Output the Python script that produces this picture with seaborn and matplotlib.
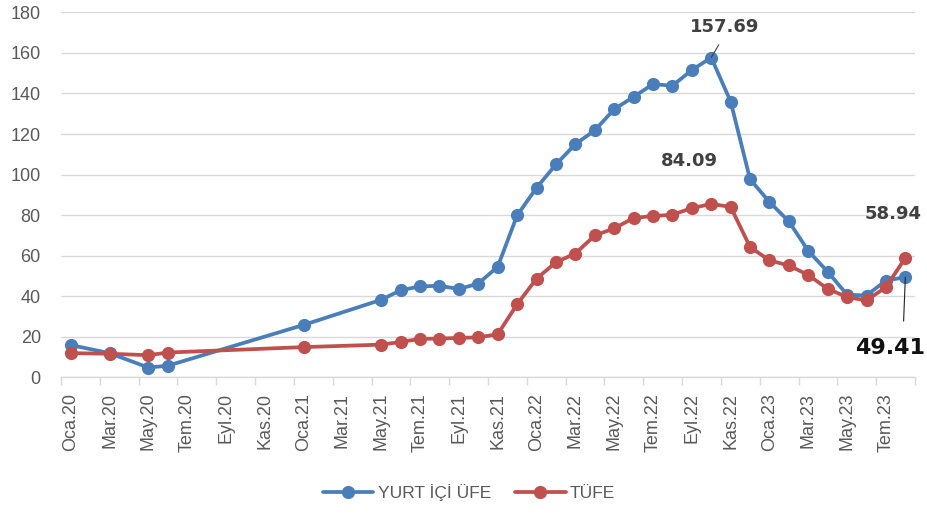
import matplotlib
matplotlib.use("Agg")
import matplotlib.pyplot as plt
import numpy as np
import pandas as pd
import seaborn as sns

# ---- data -------------------------------------------------------------
months = ["2020-01", "2020-03", "2020-05", "2020-06", "2021-01", "2021-05",
          "2021-06", "2021-07", "2021-08", "2021-09", "2021-10", "2021-11",
          "2021-12", "2022-01", "2022-02", "2022-03", "2022-04", "2022-05",
          "2022-06", "2022-07", "2022-08", "2022-09", "2022-10", "2022-11",
          "2022-12", "2023-01", "2023-02", "2023-03", "2023-04", "2023-05",
          "2023-06", "2023-07", "2023-08"]
ufe = [16.0, 12.0, 4.9, 5.8, 25.9, 38.3,
       43.0, 44.9, 45.2, 43.6, 46.3, 54.6,
       79.9, 93.5, 105.0, 115.0, 121.8, 132.2,
       138.3, 144.6, 143.8, 151.5, 157.69, 136.0,
       97.7, 86.5, 76.9, 62.4, 52.1, 40.8,
       40.4, 47.8, 49.41]
tufe = [12.0, 11.7, 11.0, 12.3, 14.97, 16.2,
        17.5, 19.0, 19.2, 19.5, 19.8, 21.3,
        36.1, 48.7, 56.8, 61.1, 70.0, 73.5,
        78.6, 79.6, 80.2, 83.5, 85.5, 84.09,
        64.3, 57.7, 55.2, 50.5, 43.7, 39.6,
        38.0, 44.5, 58.94]
axis_start = "2020-01"
axis_months = 44
tick_labels = ["Oca.20", "Mar.20", "May.20", "Tem.20", "Eyl.20", "Kas.20",
               "Oca.21", "Mar.21", "May.21", "Tem.21", "Eyl.21", "Kas.21",
               "Oca.22", "Mar.22", "May.22", "Tem.22", "Eyl.22", "Kas.22",
               "Oca.23", "Mar.23", "May.23", "Tem.23"]
series_names = ["YURT İÇİ ÜFE", "TÜFE"]
y_ticks = [0, 20, 40, 60, 80, 100, 120, 140, 160, 180]

# ---- helpers ----------------------------------------------------------
def month_index(m):
    y0, m0 = int(axis_start[:4]), int(axis_start[5:])
    return (int(m[:4]) - y0) * 12 + int(m[5:]) - m0

idx = [month_index(m) for m in months]
df = pd.DataFrame({"idx": idx, series_names[0]: ufe, series_names[1]: tufe})

BLUE = "#4A7EBB"
RED = "#C0504D"
GRID = "#D9D9D9"
TXT = "#595959"

sns.set_theme(style="white")
plt.rcParams['font.family'] = ['Liberation Sans', 'DejaVu Sans']

fig = plt.figure(figsize=(9.27, 5.27), dpi=100)
ax = fig.add_axes([0.0658, 0.2837, 0.9213, 0.693])

for name, col in zip(series_names, [BLUE, RED]):
    sns.lineplot(data=df, x="idx", y=name, color=col, marker="o",
                 markersize=9.5, markeredgewidth=0, linewidth=2.7,
                 label=name, ax=ax, zorder=3)

ax.set_xlim(-0.5, axis_months - 0.5)
ax.set_ylim(0, 180)
ax.set_yticks(y_ticks)
ax.set_xticks(np.arange(0, axis_months, 2))
ax.set_xticklabels(tick_labels, rotation=90)
ax.set_xticks(np.arange(-0.5, axis_months, 2), minor=True)
ax.tick_params(axis="x", which="major", length=0, pad=11, labelsize=13, labelcolor=TXT)
ax.tick_params(axis="x", which="minor", length=6, width=1, color=GRID, direction="out", bottom=True)
ax.tick_params(axis="y", length=0, pad=14.5, labelsize=13, labelcolor=TXT)
ax.set_xlabel("")
ax.set_ylabel("")
ax.grid(axis="y", color=GRID, linewidth=1)
ax.grid(axis="x", visible=False)
for s in ["left", "top", "right"]:
    ax.spines[s].set_visible(False)
ax.spines["bottom"].set_color(GRID)
ax.spines["bottom"].set_linewidth(1)

# ---- data labels ------------------------------------------------------
lab_font = dict(fontsize=13, fontweight="bold", family=["DejaVu Sans"])
i_peak = ufe.index(max(ufe))
ax.annotate(f"{ufe[i_peak]:.2f}", xy=(idx[i_peak], ufe[i_peak]),
            xytext=(13, 31), textcoords="offset pixels", ha="center", va="center",
            color="#404040", **lab_font,
            arrowprops=dict(arrowstyle="-", color="#404040", lw=0.8,
                            relpos=(0.5, 0.0), shrinkA=5, shrinkB=0))
i_t = tufe.index(84.09)
ax.annotate(f"{tufe[i_t]:.2f}", xy=(idx[i_t], tufe[i_t]),
            xytext=(-41, 46), textcoords="offset pixels", ha="center", va="center",
            color="#404040", **lab_font)
ax.annotate(f"{tufe[-1]:.2f}", xy=(idx[-1], tufe[-1]),
            xytext=(-12, 44), textcoords="offset pixels", ha="center", va="center",
            color="#404040", **lab_font)
ax.annotate(f"{ufe[-1]:.2f}", xy=(idx[-1], ufe[-1]),
            xytext=(-50, -71), textcoords="offset pixels", ha="left", va="center",
            color="#111111", annotation_clip=False,
            fontsize=16, fontweight="heavy", family=["DejaVu Sans"],
            arrowprops=dict(arrowstyle="-", color="#222222", lw=0.8,
                            relpos=(0.68, 1.0), shrinkA=10, shrinkB=0))

# ---- legend -----------------------------------------------------------
handles, labels = ax.get_legend_handles_labels()
ax.legend(handles, labels, loc="center", bbox_to_anchor=(0.506, 0.0645),
          bbox_transform=fig.transFigure, ncol=2, frameon=False,
          fontsize=12.5, labelcolor=TXT, handlelength=2.9, handletextpad=0.25,
          columnspacing=1.4)

fig.savefig("out.png", dpi=100)
